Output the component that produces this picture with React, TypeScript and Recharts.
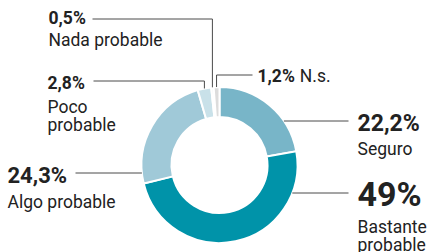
import { PieChart, Pie, Cell } from "recharts"

const categories = ["Seguro", "Bastante\nprobable", "Algo probable", "Poco\nprobable", "Nada probable", "N.s."]
const values = [22.2, 49, 24.3, 2.8, 0.5, 1.2]
const valueLabels = ["22,2%", "49%", "24,3%", "2,8%", "0,5%", "1,2%"]
const colors = ["#78b5c8", "#0093a9", "#a0c9d8", "#c9e1e9", "#eef4f6", "#dcdcdc"]

const data = categories.map((name, i) => ({ name, value: values[i], pct: valueLabels[i] }))

// label layout, relative to the pie centre
// kind "h": straight line at lineDy from ring edge to lineEnd
// kind "e": elbow line at lineDy from lineEnd to slice mid, then down to the ring
const layout = [
  { kind: "h", lineDy: -44, lineEnd: 129, tx: 138, ty: -34, pctSize: 23, nameDy: 24, inline: false },
  { kind: "h", lineDy: 28, lineEnd: 129, tx: 138, ty: 41, pctSize: 34, nameDy: 27, inline: false },
  { kind: "h", lineDy: 8, lineEnd: -144, tx: -212, ty: 18, pctSize: 22, nameDy: 25, inline: false },
  { kind: "e", lineDy: -84, lineEnd: -126, tx: -172, ty: -76, pctSize: 17.5, nameDy: 24, inline: false },
  { kind: "e", lineDy: -146, lineEnd: -127, tx: -171, ty: -141, pctSize: 17.5, nameDy: 22, inline: false },
  { kind: "e", lineDy: -90, lineEnd: 33, tx: 38, ty: -83, pctSize: 17.5, nameDy: 0, inline: true },
]

const FONT = "Roboto, 'Noto Sans', sans-serif"
const NAME_SIZE = 17.5
const RAD = Math.PI / 180

function renderLabel(props: any) {
  const { cx, cy, midAngle, outerRadius, index } = props
  const l = layout[index]
  const d = data[index]
  let path = ""
  if (l.kind === "h") {
    const side = l.lineEnd > 0 ? 1 : -1
    const ex = cx + side * Math.sqrt(outerRadius * outerRadius - l.lineDy * l.lineDy)
    path = `M${ex},${cy + l.lineDy}H${cx + l.lineEnd}`
  } else {
    const mx = cx + outerRadius * Math.cos(-midAngle * RAD)
    const my = cy + outerRadius * Math.sin(-midAngle * RAD)
    path = `M${cx + l.lineEnd},${cy + l.lineDy}H${mx}V${my}`
  }
  const lines = d.name.split("\n")
  return (
    <g key={index}>
      <path d={path} stroke="#4a4a4a" strokeWidth={1} fill="none" />
      {l.inline ? (
        <text x={cx + l.tx} y={cy + l.ty} fill="#222" fontFamily={FONT} fontSize={NAME_SIZE}>
          <tspan fontWeight={700} fontSize={l.pctSize}>{d.pct}</tspan>
          <tspan dx={5}>{d.name}</tspan>
        </text>
      ) : (
        <text x={cx + l.tx} y={cy + l.ty} fill="#222" fontFamily={FONT}>
          <tspan fontWeight={700} fontSize={l.pctSize}>{d.pct}</tspan>
          {lines.map((ln: string, j: number) => (
            <tspan key={j} x={cx + l.tx} dy={j === 0 ? l.nameDy : 18} fontSize={NAME_SIZE}>{ln}</tspan>
          ))}
        </text>
      )}
    </g>
  )
}

export default function App() {
  return (
    <div style={{ position: "absolute", left: 0, top: 0, background: "#fff" }}>
      <PieChart width={429} height={252} margin={{ top: 0, right: 0, bottom: 0, left: 0 }}>
        <Pie
          data={data}
          dataKey="value"
          cx={219.5}
          cy={165}
          innerRadius={48}
          outerRadius={78}
          startAngle={90}
          endAngle={-270}
          stroke="#fff"
          strokeWidth={2}
          label={renderLabel}
          labelLine={false}
          isAnimationActive={false}
        >
          {data.map((_, i) => (
            <Cell key={i} fill={colors[i]} />
          ))}
        </Pie>
      </PieChart>
    </div>
  )
}
